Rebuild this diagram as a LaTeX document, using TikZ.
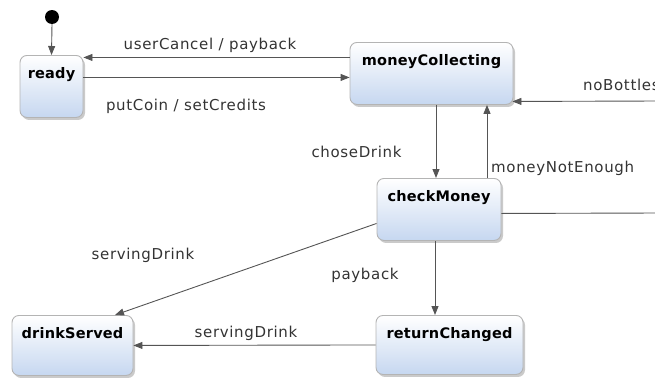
\documentclass[tikz,border=0pt]{standalone}
\usepackage{fontspec}
\setmainfont{DejaVu Sans}[LetterSpace=4.4]
\newfontfamily\statefont{DejaVu Sans}[LetterSpace=1.5]
\usetikzlibrary{arrows.meta,shadows}
\definecolor{edgegray}{HTML}{555555}
\definecolor{labelgray}{HTML}{333333}
\definecolor{boxborder}{HTML}{B4B4B4}
\definecolor{boxbottom}{HTML}{C6D7F0}
\tikzset{
  state/.style={rectangle, rounded corners=7pt, draw=boxborder, line width=0.9pt,
    top color=white, bottom color=boxbottom, inner sep=0pt,
    text height=23pt, font=\statefont\fontsize{14.5}{16}\selectfont\bfseries,
    drop shadow={shadow xshift=2pt, shadow yshift=-2.5pt, opacity=0.35, fill=black!60}},
  trans/.style={draw=edgegray, line width=0.9pt, -{Triangle[length=9pt,width=7pt]}},
  plainline/.style={draw=edgegray, line width=0.9pt},
  lbl/.style={text=labelgray, font=\fontsize{15}{17}\selectfont, inner sep=0pt, anchor=base},
}
\begin{document}
\begin{tikzpicture}[x=1pt, y=-1pt]
\useasboundingbox (0,0) rectangle (655,380);
\begin{scope}
\clip (0,0) rectangle (655,380);

% initial pseudo-state
\fill[black] (52,17) circle (7pt);
\coordinate (init) at (52,24);

% states (text sits near the top of each box)
\node[state, minimum width=63pt, text depth=39pt] (ready) at (51.5,55) [anchor=north] {ready};
\node[state, minimum width=163pt, text depth=39pt] (mc) at (431.5,42) [anchor=north] {moneyCollecting};
\node[state, minimum width=124pt, text depth=39pt] (cm) at (439,178) [anchor=north] {checkMoney};
\node[state, minimum width=147pt, text depth=36pt] (rc) at (449.5,315) [anchor=north] {returnChanged};
\node[state, minimum width=121pt, text depth=37pt] (ds) at (72.5,315) [anchor=north] {drinkServed};

% open ends leaving the drawing on the right
\coordinate (nbEnd) at (660,101);
\coordinate (cmEnd) at (660,213);

% transitions
\draw[trans] (init) -- (ready.north);
\draw[trans] ([yshift=16pt]mc.west) -- ([yshift=29pt]ready.east);
\draw[trans] ([yshift=9pt]ready.east) -- ([yshift=-4pt]mc.west);
\draw[trans] ([xshift=4.5pt]mc.south) -- ([xshift=-3pt]cm.north);
\draw[trans] ([xshift=48pt]cm.north) -- ([xshift=55.5pt]mc.south);
\draw[trans] (nbEnd) -- ([xshift=-1pt,yshift=-28pt]mc.east);
\draw[plainline] ([yshift=-4pt]cm.east) -- (cmEnd);
\draw[trans] ([yshift=-14pt]cm.west) -- ([xshift=42.5pt]ds.north);
\draw[trans] ([xshift=-4pt]cm.south) -- ([xshift=-14.5pt]rc.north);
\draw[trans] (rc.west) -- (ds.east);

% transition labels
\node[lbl] (l1) at (210,49) {userCancel / payback};
\node[lbl] (l2) at (186,110) {putCoin / setCredits};
\node[lbl, anchor=base west] (l3) at (583,90) {noBottles};
\node[lbl] (l4) at (356.5,157) {choseDrink};
\node[lbl, anchor=base west] (l5) at (491,172) {moneyNotEnough};
\node[lbl] (l6) at (143,259) {servingDrink};
\node[lbl] (l7) at (365,279) {payback};
\node[lbl] (l8) at (246,337) {servingDrink};
\end{scope}
\end{tikzpicture}
\end{document}
